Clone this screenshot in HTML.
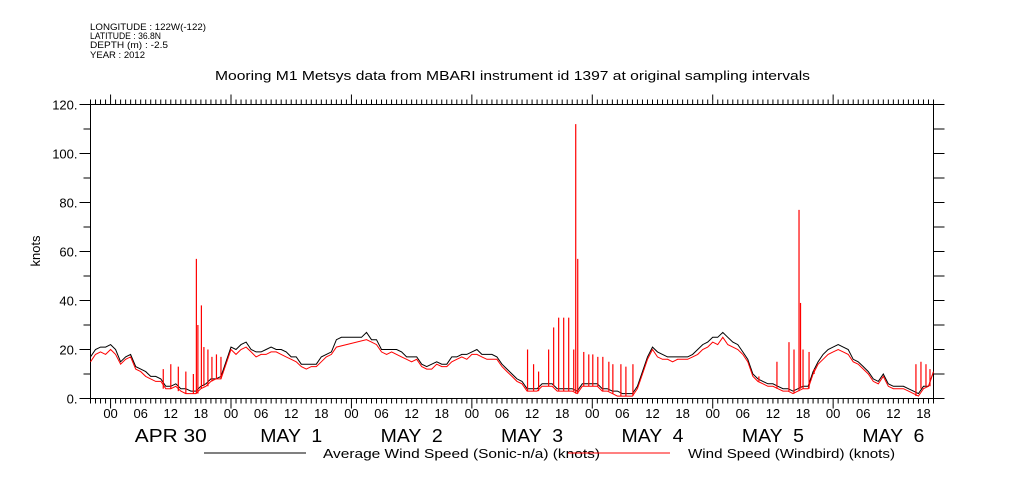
<!DOCTYPE html>
<html><head><meta charset="utf-8">
<style>
html,body{margin:0;padding:0;background:#fff;}
svg{display:block;font-family:"Liberation Sans",sans-serif;}
</style></head>
<body>
<svg id="chart" width="1009" height="504" viewBox="0 0 1009 504">
<g font-size="9" fill="#000">
<text x="90" y="30" textLength="116" lengthAdjust="spacingAndGlyphs">LONGITUDE : 122W(-122)</text>
<text x="90" y="39" textLength="71" lengthAdjust="spacingAndGlyphs">LATITUDE : 36.8N</text>
<text x="90" y="48" textLength="78" lengthAdjust="spacingAndGlyphs">DEPTH (m) : -2.5</text>
<text x="90" y="58" textLength="55" lengthAdjust="spacingAndGlyphs">YEAR : 2012</text>
</g>
<text x="215" y="80" textLength="595" lengthAdjust="spacingAndGlyphs" font-size="13">Mooring M1 Metsys data from MBARI instrument id 1397 at original sampling intervals</text>
<text transform="translate(40,251) rotate(-90)" text-anchor="middle" font-size="13">knots</text>
<g id="axes"></g>
<g id="series"></g>
<g font-size="13">
<line x1="204" y1="453" x2="306" y2="453" stroke="#000" stroke-width="1"/>
<text x="323" y="458" textLength="277" lengthAdjust="spacingAndGlyphs">Average Wind Speed (Sonic-n/a) (knots)</text>
<line x1="568" y1="453" x2="670" y2="453" stroke="#f00" stroke-width="1"/>
<text x="688" y="458" textLength="207" lengthAdjust="spacingAndGlyphs">Wind Speed (Windbird) (knots)</text>
</g>
</svg>
<script>
// hours since Apr 29 20:00
const avgSpeed = [17,20,21,21,22,20,15,17,18,13,12,11,9,9,8,5,5,6,4,4,3,3,5,6,8,8,9,15,21,20,22,23,20,19,19,20,21,20,20,19,17,17,14,14,14,14,17,18,19,24,25,25,25,25,25,27,24,24,20,20,20,20,19,17,17,17,14,13,14,15,14,14,17,17,18,18,19,20,18,18,18,17,14,12,10,8,7,4,4,4,6,6,6,4,4,4,4,3,6,6,6,6,4,4,3,3,2,2,2,5,11,17,21,19,18,17,17,17,17,17,18,20,22,23,25,25,27,25,23,22,19,16,10,8,7,6,6,5,4,4,3,4,5,5,11,15,18,20,21,22,21,20,16,15,13,11,8,7,10,6,5,5,5,4,3,2,5,5,11];
const windbird = [15,18,19,18,20,18,14,16,17,12,11,9,8,7,7,4,4,5,3,2,2,2,4,5,7,8,8,14,20,18,20,21,19,17,18,18,19,19,18,17,16,15,13,12,13,13,15,17,18,21,null,null,null,null,null,24,23,22,19,18,19,18,17,16,15,16,13,12,12,14,13,13,15,16,17,16,18,18,17,16,16,16,13,11,9,7,6,3,3,3,5,5,5,3,3,3,3,2,5,5,5,5,3,3,2,1,1,1,1,4,10,16,20,17,16,16,15,16,16,16,17,18,20,21,23,22,25,22,21,20,18,15,9,7,6,5,5,4,3,3,2,3,4,4,10,14,16,18,19,20,19,18,15,14,12,10,7,6,9,5,4,4,4,3,2,1,4,5,11];
const spikeHours = [14.5,16,17.5,19,20.5,21.1,21.4,22.1,22.6,23.4,24.2,25.1,26,87.1,88.3,89.3,91.3,92.3,93.3,94.3,95.3,96.3,96.7,97.1,98.3,99.3,100.1,101.1,102.1,103.3,104.1,105.7,106.7,108.1,133.2,136.8,139.2,140.2,141.2,141.5,142,143.2,144.2,164.5,165.5,166.5,167.3];
const spikeValues = [12,14,13,11,10,57,30,38,21,20,17,18,17,20,14,11,20,29,33,33,33,20,112,57,19,18,18,17,17,15,14,14,13,14,9,15,23,20,77,39,20,19,12,14,15,14,12];
const yTicks = [0,20,40,60,80,100,120];
const hourLabels = ["00","06","12","18"];
const dayLabels = ["APR 30","MAY  1","MAY  2","MAY  3","MAY  4","MAY  5","MAY  6"];

const NS="http://www.w3.org/2000/svg";
const X0=90.5,X1=933.5,Y0=398.5,Y1=104.5,HMAX=168;
const xs=h=>X0+(X1-X0)*h/HMAX;
const ys=v=>Y0-(Y0-Y1)*v/120;
function mk(tag,attrs,parent){const e=document.createElementNS(NS,tag);for(const k in attrs)e.setAttribute(k,attrs[k]);parent.appendChild(e);return e;}
const axes=document.getElementById('axes'), series=document.getElementById('series');

let f=mk('rect',{x:X0,y:Y1,width:X1-X0,height:Y0-Y1,fill:'none',stroke:'#000','stroke-width':1},axes);


for(let v=0;v<=120;v+=10){
  const major=v%20===0;
  let t=mk('line',{x1:X0-(major?11:7),x2:X0,y1:ys(v),y2:ys(v),stroke:'#000'},axes);
  
  
  let r=mk('line',{x1:X1,x2:X1+11,y1:ys(v),y2:ys(v),stroke:'#000'},axes);
  
  
}
yTicks.forEach(v=>{
  let t=mk('text',{x:X0-13,y:ys(v)+5,'text-anchor':'end','font-size':13},axes);
  t.textContent=v+'.';
  
  
});
for(let h=0;h<=HMAX;h++){
  const major=((h+20)%24)===0;
  const len=major?10:5;
  let b=mk('line',{x1:xs(h),x2:xs(h),y1:Y0,y2:Y0+len,stroke:'#000'},axes);
  
  
  let t=mk('line',{x1:xs(h),x2:xs(h),y1:Y1,y2:Y1-len,stroke:'#000'},axes);
  
  
}
for(let h=4;h<=HMAX;h+=6){
  let t=mk('text',{x:xs(h),y:418,'text-anchor':'middle','font-size':13},axes);
  t.textContent=hourLabels[((h-4)/6)%4];
  
  
}
dayLabels.forEach((d,i)=>{
  const w=i===0?72:62;
  let t=mk('text',{x:xs(16+24*i)-w/2,y:442,'font-size':18,textLength:w,lengthAdjust:'spacingAndGlyphs'},axes);
  t.textContent=d;
  t.style.whiteSpace='pre';
  
  
});

function pathOf(arr){
  let d='';arr.forEach((v,i)=>{if(v==null)return;d+=(d?'L':'M')+xs(i).toFixed(1)+' '+ys(v).toFixed(1);});return d;
}
let bl=mk('path',{d:pathOf(avgSpeed),fill:'none',stroke:'#000','stroke-width':1},series);


let rl=mk('path',{d:pathOf(windbird),fill:'none',stroke:'#f00','stroke-width':1},series);


spikeHours.forEach((h,i)=>{
  const base=windbird[Math.round(h)]??avgSpeed[Math.round(h)];
  let s=mk('line',{x1:xs(h),x2:xs(h),y1:ys(base),y2:ys(spikeValues[i]),stroke:'#f00','stroke-width':1.2},series);
  
  
});
</script>
</body></html>
